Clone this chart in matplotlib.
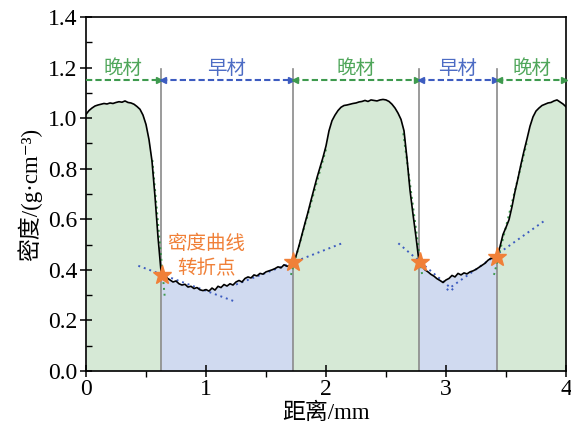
import numpy as np
import matplotlib
matplotlib.use("Agg")
import matplotlib.pyplot as plt

plt.rcParams['font.family'] = ['Liberation Serif', 'Noto Sans CJK SC', 'DejaVu Sans']

# ---------------- data ----------------
dist = np.round(np.arange(0, 4.0001, 0.025), 4)
density = [
    1.015, 1.030, 1.040, 1.048, 1.052, 1.055, 1.058, 1.056, 1.060, 1.058,
    1.062, 1.065, 1.063, 1.068, 1.062, 1.060, 1.055, 1.046, 1.035, 1.012,
    0.975, 0.915, 0.830, 0.690, 0.530, 0.395,
    0.372, 0.368, 0.360, 0.352, 0.356, 0.345, 0.340, 0.343, 0.332, 0.335,
    0.326, 0.330, 0.321, 0.318, 0.322, 0.316, 0.328, 0.320, 0.335, 0.330,
    0.342, 0.336, 0.345, 0.340, 0.352, 0.358, 0.352, 0.366, 0.372, 0.368,
    0.380, 0.376, 0.386, 0.383, 0.392, 0.396, 0.400, 0.405, 0.412, 0.408,
    0.420, 0.414, 0.418, 0.430,
    0.455, 0.495, 0.540, 0.585, 0.628, 0.675, 0.720, 0.765, 0.805, 0.845,
    0.890, 0.950, 0.990, 1.012, 1.030, 1.043, 1.050, 1.052, 1.055, 1.058,
    1.060, 1.064, 1.066, 1.070, 1.066, 1.072, 1.070, 1.068, 1.072, 1.074,
    1.072, 1.066, 1.055, 1.040, 1.020, 0.995, 0.950, 0.840, 0.715, 0.620,
    0.530, 0.432,
    0.415, 0.400, 0.392, 0.382, 0.375, 0.365, 0.358, 0.350, 0.360, 0.366,
    0.378, 0.372, 0.386, 0.380, 0.388, 0.384, 0.392, 0.396, 0.402, 0.410,
    0.418, 0.426, 0.438, 0.446, 0.444, 0.452,
    0.492, 0.540, 0.568, 0.598, 0.650, 0.710, 0.762, 0.818, 0.870, 0.918,
    0.968, 1.005, 1.028, 1.040, 1.050, 1.055, 1.060, 1.062, 1.068, 1.072,
    1.064, 1.056, 1.045,
]
boundaries = [0.625, 1.725, 2.775, 3.425]
region_labels = ['晚材', '早材', '晚材', '早材', '晚材']
region_types = ['late', 'early', 'late', 'early', 'late']

star_x = [0.63, 1.728, 2.78, 3.428]
star_y = [0.378, 0.430, 0.430, 0.452]

blue_fits = [((0.436, 0.416), (1.228, 0.277)),
             ((1.25, 0.342), (2.144, 0.507)),
             ((2.603, 0.505), (3.075, 0.314)),
             ((3.006, 0.320), (3.817, 0.593))]
green_fits = [((0.553, 0.834), (0.656, 0.294)),
              ((1.708, 0.380), (2.006, 0.887)),
              ((2.644, 0.940), (2.803, 0.373)),
              ((3.400, 0.380), (3.672, 0.900))]

arrow_y = 1.15
label_y = 1.195
vline_top = 1.195
annot_text = '密度曲线\n转折点'

# ---------------- styles ----------------
fill_c = {'late': '#d6e9d6', 'early': '#d0daf0'}
line_c = {'late': '#3e9a4e', 'early': '#3d5cc0'}
text_c = {'late': '#4fa65a', 'early': '#4d6cc4'}
star_c = '#f08038'

x = np.array(dist)
y = np.array(density)

fig = plt.figure(figsize=(5.71, 4.37), dpi=100)
ax = fig.add_axes([86/571, 66/437, 480/571, 354/437])

edges = [0.0] + boundaries + [4.0]
for i, t in enumerate(region_types):
    a, b = edges[i], edges[i+1]
    m = (x > a) & (x < b)
    xs = np.concatenate([[a], x[m], [b]])
    ys = np.concatenate([[np.interp(a, x, y)], y[m], [np.interp(b, x, y)]])
    ax.fill_between(xs, 0, ys, color=fill_c[t], lw=0, zorder=1)

for bx in boundaries:
    ax.plot([bx, bx], [0, vline_top], color='#8a8a8a', lw=1.2, zorder=2)

ax.plot(x, y, color='black', lw=1.2, zorder=4)

for (p0, p1) in blue_fits:
    ax.plot([p0[0], p1[0]], [p0[1], p1[1]], ls=(0, (1, 2)), color=line_c['early'], lw=1.4, zorder=3)
for (p0, p1) in green_fits:
    ax.plot([p0[0], p1[0]], [p0[1], p1[1]], ls=(0, (1, 2)), color=line_c['late'], lw=1.4, zorder=3)

ax.plot(star_x, star_y, ls='none', marker='*', ms=14, color=star_c, mec=star_c, zorder=6)

# region arrows and labels
for i, t in enumerate(region_types):
    a, b = edges[i], edges[i+1]
    c = line_c[t]
    ax.plot([a, b], [arrow_y, arrow_y], ls=(0, (3, 1.5)), color=c, lw=1.5, zorder=3, clip_on=False)
    ax.plot([b - 0.02], [arrow_y], marker='>', ms=5, color=c, zorder=3, clip_on=False)
    if i > 0:
        ax.plot([a + 0.02], [arrow_y], marker='<', ms=5, color=c, zorder=3, clip_on=False)
    ax.text((a + b) / 2, label_y, region_labels[i], color=text_c[t], fontsize=14,
            ha='center', va='center', family=['Noto Sans CJK SC'])

ax.text(1.0, 0.455, annot_text, color=star_c, fontsize=14, ha='center', va='center',
        linespacing=1.3, family=['Noto Sans CJK SC'], zorder=7)

ax.set_xlim(0, 4)
ax.set_ylim(0, 1.4)
ax.set_xticks([0, 1, 2, 3, 4])
ax.set_xticks([0.5, 1.5, 2.5, 3.5], minor=True)
ax.set_yticks(np.arange(0, 1.41, 0.2))
ax.set_yticks(np.arange(0.1, 1.4, 0.2), minor=True)
ax.set_yticklabels([f'{v:.1f}' for v in np.arange(0, 1.41, 0.2)])
ax.tick_params(axis='both', which='major', direction='inout', length=8, width=1.1, labelsize=17)
ax.tick_params(axis='x', which='major', pad=2)
ax.tick_params(axis='y', which='major', pad=2)
ax.tick_params(axis='y', which='minor', direction='in', length=4, width=1.0)
ax.tick_params(axis='x', which='minor', direction='out', length=4, width=1.0)
for s in ax.spines.values():
    s.set_linewidth(1.2)

ax.set_xlabel('距离/mm', fontsize=16.5, labelpad=2)
ax.set_ylabel('密度/(g·cm⁻³)', fontsize=16.5, labelpad=4)

fig.savefig('out.png', dpi=100)
